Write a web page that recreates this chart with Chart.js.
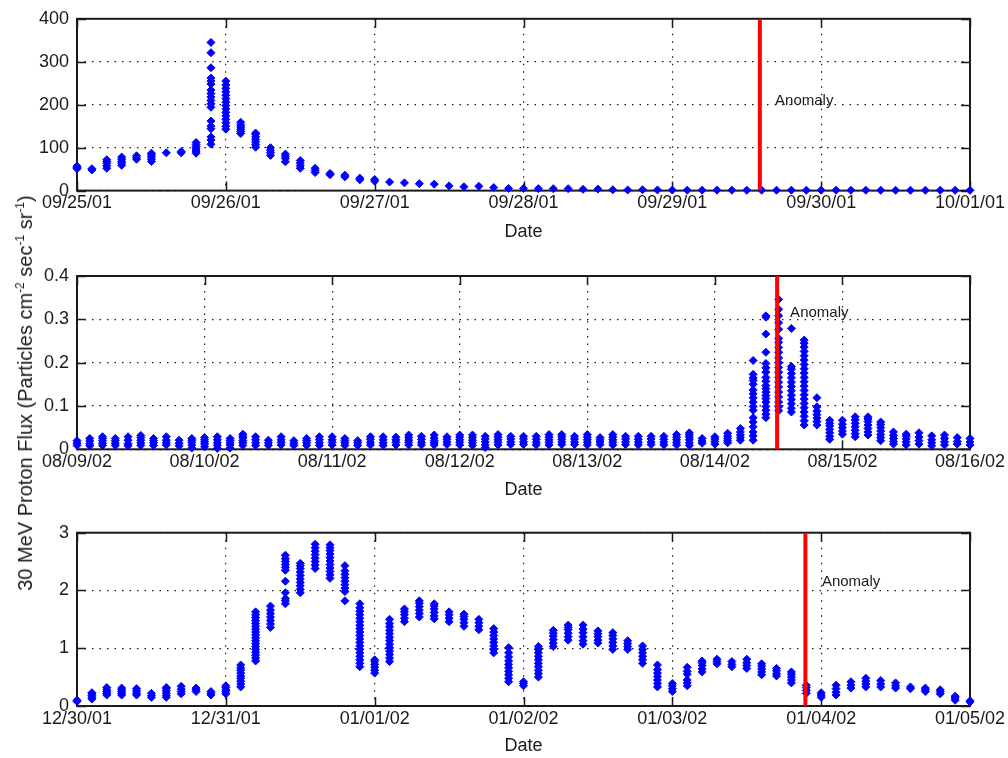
<!DOCTYPE html>
<html>
<head>
<meta charset="utf-8">
<title>30 MeV Proton Flux</title>
<script src="https://cdn.jsdelivr.net/npm/chart.js@4.4.1/dist/chart.umd.min.js"></script>
<style>
  html, body { margin: 0; padding: 0; background: #ffffff; }
  #wrap { position: relative; width: 1008px; height: 758px; overflow: hidden; background: #ffffff; }
  #wrap canvas { position: absolute; left: 0; }
  #ylab {
    position: absolute; left: 25px; top: 393px;
    transform: translate(-50%, -50%) rotate(-90deg);
    white-space: nowrap; line-height: 20px;
    font-family: 'Liberation Sans', Arial, sans-serif; font-size: 20px; color: #1a1a1a;
  }
  #ylab sup { font-size: 12px; line-height: 0; vertical-align: 8px; }
</style>
</head>
<body>
<div id="wrap">
  <canvas id="c1" width="1008" height="252" style="top:0px"></canvas>
  <canvas id="c2" width="1008" height="256" style="top:252px"></canvas>
  <canvas id="c3" width="1008" height="250" style="top:508px"></canvas>
  <div id="ylab">30 MeV Proton Flux (Particles cm<sup>-2</sup> sec<sup>-1</sup> sr<sup>-1</sup>)</div>
</div>
<script>
// ---------- Event 1: 25 Sep – 1 Oct 2001 ----------
const p1Dates = ['09/25/01', '09/26/01', '09/27/01', '09/28/01', '09/29/01', '09/30/01', '10/01/01'];
const p1YTicks = [0, 100, 200, 300, 400];
// sample times, in days after the first date
const p1Times = [0.0, 0.1, 0.2, 0.3, 0.4, 0.5, 0.6, 0.7, 0.8, 0.9, 1.0, 1.1, 1.2, 1.3, 1.4, 1.5, 1.6, 1.7, 1.8, 1.9,
  2.0, 2.1, 2.2, 2.3, 2.4, 2.5, 2.6, 2.7, 2.8, 2.9, 3.0, 3.1, 3.2, 3.3, 3.4, 3.5, 3.6, 3.7, 3.8, 3.9,
  4.0, 4.1, 4.2, 4.3, 4.4, 4.5, 4.6, 4.7, 4.8, 4.9, 5.0, 5.1, 5.2, 5.3, 5.4, 5.5, 5.6, 5.7, 5.8, 5.9, 6.0];
// flux readings collected at each sample time
const p1Flux = [
  [51, 54, 57], [48, 51], [52, 58, 64, 68, 72], [59, 64, 68, 73, 78], [73, 77, 81],
  [68, 73, 78, 83, 87], [88], [88, 91], [87, 92, 97, 102, 107, 112],
  [108, 118, 125, 144, 150, 162, 194, 202, 210, 218, 226, 234, 248, 255, 262, 286, 321, 345],
  [143, 150, 158, 166, 174, 182, 190, 198, 206, 214, 222, 230, 238, 246, 255],
  [133, 138, 143, 148, 153, 159], [101, 107, 113, 119, 125, 131, 134], [82, 88, 94, 100],
  [67, 75, 80, 85], [52, 58, 64, 70], [42, 47, 52], [37, 40], [32, 36], [25, 29],
  [22, 26], [20], [18], [16], [15], [11], [9], [10], [7], [5],
  [5], [4.5], [4.5], [4.5], [3], [3.5], [2], [1.5], [2], [1.5],
  [1.2], [1], [1], [1.1], [1], [0.9], [1], [0.9], [1], [0.8],
  [1], [0.9], [0.8], [0.9], [0.8], [0.8], [0.7], [0.8], [0.7], [0.7], [0.6]
];
const p1Anomaly = 4.588;
const p1NoteX = 4.69;
const p1NoteY = 210;

// ---------- Event 2: 9 Aug – 16 Aug 2002 ----------
const p2Dates = ['08/09/02', '08/10/02', '08/11/02', '08/12/02', '08/13/02', '08/14/02', '08/15/02', '08/16/02'];
const p2YTicks = [0, 0.1, 0.2, 0.3, 0.4];
const p2Times = [0.0, 0.1, 0.2, 0.3, 0.4, 0.5, 0.6, 0.7, 0.8, 0.9, 1.0, 1.1, 1.2, 1.3, 1.4, 1.5, 1.6, 1.7, 1.8, 1.9,
  2.0, 2.1, 2.2, 2.3, 2.4, 2.5, 2.6, 2.7, 2.8, 2.9, 3.0, 3.1, 3.2, 3.3, 3.4, 3.5, 3.6, 3.7, 3.8, 3.9,
  4.0, 4.1, 4.2, 4.3, 4.4, 4.5, 4.6, 4.7, 4.8, 4.9, 5.0, 5.1, 5.2, 5.3, 5.4, 5.5, 5.6, 5.7, 5.8, 5.9,
  6.0, 6.1, 6.2, 6.3, 6.4, 6.5, 6.6, 6.7, 6.8, 6.9, 7.0];
const p2Flux = [
  [0.009, 0.014, 0.02], [0.008, 0.013, 0.019, 0.025], [0.009, 0.014, 0.02, 0.025, 0.029], [0.009, 0.014, 0.02, 0.025],
  [0.008, 0.013, 0.021, 0.029], [0.009, 0.015, 0.021, 0.027, 0.032], [0.009, 0.015, 0.02, 0.025], [0.01, 0.015, 0.021, 0.029],
  [0.008, 0.014, 0.021], [0.003, 0.01, 0.016, 0.021, 0.025], [0.006, 0.012, 0.017, 0.022, 0.027], [0.002, 0.009, 0.015, 0.022, 0.029],
  [0.003, 0.01, 0.015, 0.02, 0.025], [0.009, 0.015, 0.02, 0.026, 0.03, 0.035], [0.009, 0.015, 0.022, 0.029], [0.009, 0.015, 0.021],
  [0.01, 0.016, 0.022, 0.029], [0.009, 0.014, 0.02], [0.009, 0.015, 0.02, 0.025], [0.009, 0.015, 0.022, 0.029],
  [0.01, 0.016, 0.022, 0.029], [0.009, 0.015, 0.02, 0.025], [0.009, 0.015, 0.02], [0.01, 0.016, 0.023, 0.029],
  [0.009, 0.015, 0.022, 0.029], [0.01, 0.016, 0.022, 0.028], [0.01, 0.016, 0.021, 0.027, 0.033], [0.01, 0.016, 0.023, 0.03],
  [0.01, 0.015, 0.02, 0.026, 0.033], [0.011, 0.017, 0.023, 0.029], [0.01, 0.016, 0.022, 0.028, 0.033], [0.009, 0.015, 0.021, 0.027, 0.033],
  [0.004, 0.01, 0.017, 0.024, 0.03], [0.01, 0.016, 0.022, 0.028, 0.034], [0.011, 0.017, 0.024, 0.03], [0.011, 0.017, 0.024, 0.03],
  [0.01, 0.016, 0.023, 0.03], [0.01, 0.016, 0.022, 0.028, 0.034], [0.011, 0.017, 0.023, 0.029, 0.034], [0.011, 0.017, 0.024, 0.03],
  [0.01, 0.016, 0.022, 0.028, 0.034], [0.011, 0.017, 0.022, 0.027], [0.01, 0.016, 0.022, 0.028, 0.034], [0.011, 0.017, 0.024, 0.03],
  [0.01, 0.016, 0.023, 0.03], [0.011, 0.017, 0.024, 0.03], [0.01, 0.016, 0.023, 0.03], [0.01, 0.016, 0.022, 0.028, 0.034],
  [0.009, 0.015, 0.022, 0.028, 0.033, 0.038], [0.014, 0.019, 0.025], [0.012, 0.018, 0.024, 0.029],
  [0.015, 0.02, 0.025, 0.03, 0.037], [0.021, 0.027, 0.033, 0.04, 0.048],
  [0.021, 0.031, 0.04, 0.052, 0.063, 0.073, 0.09, 0.099, 0.109, 0.119, 0.128, 0.137, 0.15, 0.159, 0.165, 0.173, 0.205],
  [0.073, 0.081, 0.09, 0.099, 0.109, 0.117, 0.124, 0.132, 0.14, 0.147, 0.157, 0.166, 0.178, 0.188, 0.198, 0.224, 0.266, 0.305, 0.308],
  [0.089, 0.098, 0.109, 0.121, 0.132, 0.144, 0.155, 0.166, 0.178, 0.189, 0.2, 0.211, 0.224, 0.235, 0.247, 0.256, 0.277, 0.292, 0.308, 0.323, 0.346],
  [0.086, 0.095, 0.105, 0.115, 0.125, 0.135, 0.145, 0.155, 0.165, 0.175, 0.185, 0.191, 0.279],
  [0.056, 0.066, 0.076, 0.086, 0.096, 0.106, 0.116, 0.126, 0.136, 0.146, 0.156, 0.166, 0.176, 0.186, 0.196, 0.206, 0.216, 0.226, 0.236, 0.245, 0.252],
  [0.056, 0.064, 0.072, 0.08, 0.088, 0.098, 0.119], [0.023, 0.03, 0.038, 0.046, 0.054, 0.06, 0.067],
  [0.035, 0.042, 0.05, 0.058, 0.067], [0.029, 0.036, 0.044, 0.052, 0.06, 0.068, 0.075],
  [0.033, 0.04, 0.048, 0.056, 0.064, 0.07, 0.075], [0.02, 0.027, 0.034, 0.042, 0.05, 0.057, 0.063],
  [0.012, 0.018, 0.025, 0.032, 0.04], [0.01, 0.017, 0.024, 0.03, 0.035], [0.012, 0.02, 0.028, 0.038],
  [0.008, 0.015, 0.022, 0.031], [0.01, 0.017, 0.025, 0.033], [0.012, 0.018, 0.027], [0.01, 0.017, 0.025]
];
const p2Anomaly = 5.488;
const p2NoteX = 5.59;
const p2NoteY = 0.316;

// ---------- Event 3: 30 Dec 2001 – 5 Jan 2002 ----------
const p3Dates = ['12/30/01', '12/31/01', '01/01/02', '01/02/02', '01/03/02', '01/04/02', '01/05/02'];
const p3YTicks = [0, 1, 2, 3];
const p3Times = [0.0, 0.1, 0.2, 0.3, 0.4, 0.5, 0.6, 0.7, 0.8, 0.9, 1.0, 1.1, 1.2, 1.3, 1.4, 1.5, 1.6, 1.7, 1.8, 1.9,
  2.0, 2.1, 2.2, 2.3, 2.4, 2.5, 2.6, 2.7, 2.8, 2.9, 3.0, 3.1, 3.2, 3.3, 3.4, 3.5, 3.6, 3.7, 3.8, 3.9,
  4.0, 4.1, 4.2, 4.3, 4.4, 4.5, 4.6, 4.7, 4.8, 4.9, 5.0, 5.1, 5.2, 5.3, 5.4, 5.5, 5.6, 5.7, 5.8, 5.9, 6.0];
const p3Flux = [
  [0.08, 0.1], [0.12, 0.15, 0.18, 0.21, 0.23], [0.19, 0.22, 0.25, 0.28, 0.32], [0.19, 0.22, 0.25, 0.28, 0.31],
  [0.19, 0.22, 0.26, 0.3], [0.15, 0.18, 0.22], [0.15, 0.18, 0.22, 0.26, 0.3, 0.32], [0.21, 0.25, 0.29, 0.34],
  [0.25, 0.28, 0.31], [0.19, 0.22, 0.25], [0.21, 0.25, 0.28, 0.32, 0.35],
  [0.33, 0.38, 0.43, 0.48, 0.52, 0.57, 0.62, 0.66, 0.71],
  [0.78, 0.83, 0.88, 0.93, 0.98, 1.03, 1.08, 1.13, 1.18, 1.23, 1.28, 1.33, 1.38, 1.43, 1.48, 1.53, 1.58, 1.63],
  [1.36, 1.42, 1.48, 1.54, 1.6, 1.66, 1.73],
  [1.77, 1.82, 1.86, 1.96, 2.16, 2.35, 2.4, 2.45, 2.5, 2.55, 2.61],
  [1.96, 2.02, 2.08, 2.14, 2.2, 2.26, 2.32, 2.38, 2.43, 2.47],
  [2.38, 2.44, 2.5, 2.56, 2.62, 2.68, 2.74, 2.8],
  [2.21, 2.27, 2.33, 2.39, 2.45, 2.51, 2.57, 2.63, 2.69, 2.74, 2.79],
  [1.82, 1.98, 2.04, 2.1, 2.16, 2.22, 2.28, 2.34, 2.43],
  [0.68, 0.74, 0.8, 0.86, 0.92, 0.98, 1.04, 1.1, 1.16, 1.22, 1.28, 1.34, 1.4, 1.46, 1.52, 1.58, 1.64, 1.7, 1.77],
  [0.57, 0.62, 0.67, 0.72, 0.77, 0.8],
  [0.77, 0.83, 0.89, 0.95, 1.01, 1.07, 1.13, 1.19, 1.25, 1.31, 1.37, 1.43, 1.5],
  [1.46, 1.52, 1.58, 1.63, 1.68], [1.54, 1.6, 1.66, 1.72, 1.78, 1.82], [1.51, 1.56, 1.62, 1.68, 1.73, 1.77],
  [1.46, 1.52, 1.58, 1.63], [1.38, 1.44, 1.5, 1.55, 1.59], [1.32, 1.38, 1.44, 1.5],
  [0.92, 0.98, 1.04, 1.1, 1.16, 1.22, 1.28, 1.34],
  [0.42, 0.48, 0.54, 0.6, 0.66, 0.72, 0.78, 0.85, 0.92, 1.01],
  [0.35, 0.39, 0.42],
  [0.5, 0.56, 0.62, 0.68, 0.74, 0.8, 0.86, 0.92, 0.98, 1.03],
  [1.03, 1.09, 1.15, 1.21, 1.26, 1.31], [1.14, 1.2, 1.26, 1.32, 1.36, 1.4], [1.07, 1.13, 1.2, 1.27, 1.33, 1.4],
  [1.09, 1.14, 1.2, 1.25, 1.3], [0.98, 1.04, 1.1, 1.16, 1.22, 1.27], [0.98, 1.03, 1.08, 1.13],
  [0.74, 0.8, 0.86, 0.92, 0.98, 1.04], [0.33, 0.39, 0.45, 0.51, 0.57, 0.63, 0.71],
  [0.25, 0.3, 0.35, 0.39], [0.35, 0.4, 0.45, 0.55, 0.6, 0.67], [0.59, 0.64, 0.7, 0.75, 0.78],
  [0.73, 0.77, 0.81], [0.68, 0.72, 0.77], [0.65, 0.7, 0.75, 0.81], [0.54, 0.59, 0.64, 0.69, 0.73],
  [0.52, 0.56, 0.61, 0.65], [0.4, 0.45, 0.5, 0.55, 0.59], [0.22, 0.27, 0.32, 0.36], [0.15, 0.19, 0.23],
  [0.19, 0.24, 0.3, 0.36], [0.31, 0.36, 0.42], [0.33, 0.38, 0.43, 0.48], [0.33, 0.38, 0.44],
  [0.31, 0.35, 0.4], [0.3, 0.33], [0.25, 0.28, 0.31], [0.21, 0.25, 0.28], [0.1, 0.14, 0.17], [0.07, 0.09]
];
const p3Anomaly = 4.894;
const p3NoteX = 5.005;
const p3NoteY = 2.145;

// ---------- drawing ----------
const FONT_FAMILY = "'Liberation Sans', Arial, Helvetica, sans-serif";
const INK = '#1a1a1a';
const MARKER_BLUE = '#0000ff';
const TICK_LEN = 9;

// Axes box with inward tick marks on all four sides (drawn under the markers)
const axesBox = {
  id: 'axesBox',
  beforeDatasetsDraw(chart) {
    const { ctx, chartArea: a, scales: { x, y } } = chart;
    ctx.save();
    ctx.strokeStyle = INK;
    ctx.lineWidth = 1.5;
    ctx.beginPath();
    x.ticks.forEach(t => {
      const px = Math.round(x.getPixelForValue(t.value)) + 0.5;
      ctx.moveTo(px, a.bottom); ctx.lineTo(px, a.bottom - TICK_LEN);
      ctx.moveTo(px, a.top); ctx.lineTo(px, a.top + TICK_LEN);
    });
    y.ticks.forEach(t => {
      const py = Math.round(y.getPixelForValue(t.value)) + 0.5;
      ctx.moveTo(a.left, py); ctx.lineTo(a.left + TICK_LEN, py);
      ctx.moveTo(a.right, py); ctx.lineTo(a.right - TICK_LEN, py);
    });
    ctx.stroke();
    ctx.lineWidth = 2;
    ctx.strokeRect(a.left, a.top, a.right - a.left, a.bottom - a.top);
    ctx.restore();
  }
};

// "Anomaly" note placed in data coordinates
const anomalyNote = {
  id: 'anomalyNote',
  afterDatasetsDraw(chart, args, opts) {
    const { ctx, scales: { x, y } } = chart;
    ctx.save();
    ctx.font = '15px ' + FONT_FAMILY;
    ctx.fillStyle = INK;
    ctx.textAlign = 'left';
    ctx.textBaseline = 'middle';
    ctx.fillText(opts.text, x.getPixelForValue(opts.x), y.getPixelForValue(opts.y));
    ctx.restore();
  }
};

function buildPoints(times, flux) {
  const pts = [];
  times.forEach((t, i) => flux[i].forEach(v => pts.push({ x: t, y: v })));
  return pts;
}

function makePanel(canvasId, dates, yTicks, times, flux, anomaly, noteX, noteY, frame) {
  const yMax = yTicks[yTicks.length - 1];
  const xMax = dates.length - 1;
  const tickFont = { family: FONT_FAMILY, size: 18 };
  return new Chart(document.getElementById(canvasId), {
    type: 'scatter',
    data: {
      datasets: [
        {
          type: 'line',
          label: 'Anomaly',
          data: [{ x: anomaly, y: 0 }, { x: anomaly, y: yMax }],
          borderColor: '#ff0000',
          borderWidth: 4,
          pointRadius: 0,
          fill: false,
          order: 0
        },
        {
          label: '30 MeV proton flux',
          data: buildPoints(times, flux),
          pointStyle: 'rectRot',
          pointRadius: 4,
          pointBorderWidth: 1,
          backgroundColor: MARKER_BLUE,
          borderColor: MARKER_BLUE,
          clip: false,
          order: 1
        }
      ]
    },
    options: {
      responsive: false,
      maintainAspectRatio: false,
      devicePixelRatio: 1,
      animation: false,
      events: [],
      layout: { padding: { left: 0, right: 38, top: frame.top, bottom: 0 } },
      plugins: {
        legend: { display: false },
        tooltip: { enabled: false },
        anomalyNote: { text: 'Anomaly', x: noteX, y: noteY }
      },
      scales: {
        x: {
          type: 'linear',
          min: 0,
          max: xMax,
          afterBuildTicks: s => { s.ticks = dates.map((d, i) => ({ value: i })); },
          afterFit: s => { s.height = frame.axisHeight; },
          ticks: {
            autoSkip: false, maxRotation: 0, minRotation: 0, padding: 2,
            font: tickFont, color: INK,
            callback: v => dates[v]
          },
          grid: { color: INK, lineWidth: 1.2, drawTicks: false },
          border: { display: false, dash: [1.5, 6] },
          title: {
            display: true, text: 'Date', color: INK,
            font: { family: FONT_FAMILY, size: 18 },
            padding: { top: 0, bottom: frame.titleGap }
          }
        },
        y: {
          type: 'linear',
          min: 0,
          max: yMax,
          afterBuildTicks: s => { s.ticks = yTicks.map(v => ({ value: v })); },
          afterFit: s => { s.width = 77; },
          ticks: { padding: 8, font: tickFont, color: INK, callback: v => String(v) },
          grid: { color: INK, lineWidth: 1.2, drawTicks: false },
          border: { display: false, dash: [1.5, 6] }
        }
      }
    },
    plugins: [axesBox, anomalyNote]
  });
}

makePanel('c1', p1Dates, p1YTicks, p1Times, p1Flux, p1Anomaly, p1NoteX, p1NoteY,
  { top: 16, axisHeight: 61.4, titleGap: 8.7 });
makePanel('c2', p2Dates, p2YTicks, p2Times, p2Flux, p2Anomaly, p2NoteX, p2NoteY,
  { top: 24, axisHeight: 58.7, titleGap: 6.7 });
makePanel('c3', p3Dates, p3YTicks, p3Times, p3Flux, p3Anomaly, p3NoteX, p3NoteY,
  { top: 24.7, axisHeight: 52, titleGap: 0.7 });
</script>
</body>
</html>
